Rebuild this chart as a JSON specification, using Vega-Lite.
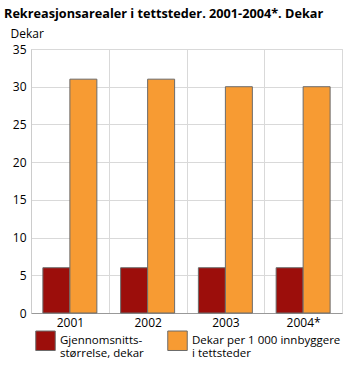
{
  "$schema": "https://vega.github.io/schema/vega-lite/v6.json",
  "width": 311,
  "height": 264,
  "autosize": {"type": "none"},
  "padding": {"left": 31, "top": 49, "right": 21, "bottom": 52},
  "background": "white",
  "title": {
    "text": "Rekreasjonsarealer i tettsteder. 2001-2004*. Dekar",
    "anchor": "start",
    "frame": "group",
    "dx": -27,
    "offset": 6,
    "font": "Open Sans",
    "fontSize": 12.7,
    "fontWeight": "bold",
    "color": "#000000"
  },
  "data": {
    "values": [
      {"year": "2001", "series": "Gjennomsnitts-størrelse, dekar", "value": 6},
      {"year": "2001", "series": "Dekar per 1 000 innbyggere i tettsteder", "value": 31},
      {"year": "2002", "series": "Gjennomsnitts-størrelse, dekar", "value": 6},
      {"year": "2002", "series": "Dekar per 1 000 innbyggere i tettsteder", "value": 31},
      {"year": "2003", "series": "Gjennomsnitts-størrelse, dekar", "value": 6},
      {"year": "2003", "series": "Dekar per 1 000 innbyggere i tettsteder", "value": 30},
      {"year": "2004*", "series": "Gjennomsnitts-størrelse, dekar", "value": 6},
      {"year": "2004*", "series": "Dekar per 1 000 innbyggere i tettsteder", "value": 30}
    ]
  },
  "mark": {"type": "bar", "stroke": "#6b6b6b", "strokeWidth": 1},
  "encoding": {
    "x": {
      "field": "year",
      "type": "nominal",
      "scale": {"paddingInner": 0, "paddingOuter": 0},
      "axis": {
        "title": null,
        "labelAngle": 0,
        "labelFont": "Open Sans",
        "labelFontSize": 12,
        "labelColor": "#000000",
        "labelPadding": 4,
        "ticks": false,
        "tickBand": "extent",
        "grid": true,
        "gridColor": "#d9d9d9",
        "domainColor": "#999999"
      }
    },
    "xOffset": {
      "field": "series",
      "type": "nominal",
      "sort": ["Gjennomsnitts-størrelse, dekar", "Dekar per 1 000 innbyggere i tettsteder"],
      "scale": {"paddingInner": 0, "paddingOuter": 0.44}
    },
    "y": {
      "field": "value",
      "type": "quantitative",
      "scale": {"domain": [0, 35]},
      "axis": {
        "title": "Dekar",
        "titleAngle": 0,
        "titleAlign": "left",
        "titleBaseline": "bottom",
        "titleX": -21,
        "titleY": -9,
        "titleFont": "Open Sans",
        "titleFontSize": 12,
        "titleFontWeight": "normal",
        "titleColor": "#000000",
        "values": [0, 5, 10, 15, 20, 25, 30, 35],
        "labelFont": "Open Sans",
        "labelFontSize": 12,
        "labelColor": "#000000",
        "labelPadding": 5,
        "ticks": false,
        "gridColor": "#d9d9d9",
        "domainColor": "#cccccc"
      }
    },
    "color": {
      "field": "series",
      "type": "nominal",
      "sort": ["Gjennomsnitts-størrelse, dekar", "Dekar per 1 000 innbyggere i tettsteder"],
      "scale": {
        "domain": ["Gjennomsnitts-størrelse, dekar", "Dekar per 1 000 innbyggere i tettsteder"],
        "range": ["#9c0e0b", "#f79b33"]
      },
      "legend": {
        "title": null,
        "orient": "none",
        "legendX": 4,
        "legendY": 281,
        "direction": "horizontal",
        "columns": 2,
        "columnPadding": 21,
        "symbolType": "square",
        "symbolSize": 380,
        "symbolStrokeColor": "#6b6b6b",
        "symbolStrokeWidth": 1,
        "labelFont": "Open Sans",
        "labelFontSize": 11.5,
        "labelColor": "#000000",
        "labelLimit": 200,
        "labelExpr": "datum.label == 'Gjennomsnitts-størrelse, dekar' ? ['Gjennomsnitts-', 'størrelse, dekar'] : ['Dekar per 1 000 innbyggere', 'i tettsteder']",
        "labelBaseline": "middle",
        "labelOffset": 4
      }
    }
  },
  "config": {
    "view": {"stroke": "#d9d9d9"},
    "axis": {"gridWidth": 1}
  }
}
